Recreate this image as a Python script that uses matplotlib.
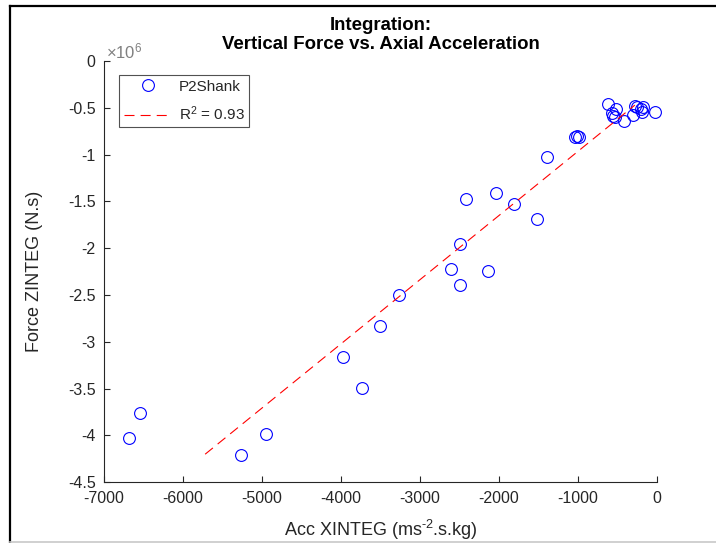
import matplotlib.pyplot as plt
from matplotlib.lines import Line2D

plt.rcParams['font.family'] = ['Liberation Sans', 'DejaVu Sans']
plt.rcParams['axes.unicode_minus'] = False
plt.rcParams['mathtext.fontset'] = 'custom'
plt.rcParams['mathtext.rm'] = 'Liberation Sans'
plt.rcParams['mathtext.it'] = 'Liberation Sans:italic'

# integrated acceleration (ms^-2.s.kg) and integrated force (x10^6 N.s)
acc_xinteg = [-6684, -6540, -5266, -4953, -3979, -3731, -3506, -3262,
              -2613, -2498, -2489, -2414, -2135, -2038, -1806, -1515,
              -1392, -1040, -1010, -985, -620, -566, -553, -535, -523,
              -418, -304, -278, -249, -203, -186, -177, -22]
force_zinteg = [-4.028, -3.760, -4.205, -3.984, -3.161, -3.493, -2.827, -2.495,
                -2.218, -2.389, -1.957, -1.473, -2.247, -1.406, -1.524, -1.684,
                -1.025, -0.811, -0.805, -0.812, -0.463, -0.558, -0.587, -0.601, -0.516,
                -0.640, -0.576, -0.480, -0.487, -0.516, -0.540, -0.494, -0.544]

# linear fit endpoints
fit_x = [-5720, -280]
fit_y = [-4.20, -0.47]
r2 = 0.93

xticks = [-7000, -6000, -5000, -4000, -3000, -2000, -1000, 0]
yticks = [0, -0.5, -1, -1.5, -2, -2.5, -3, -3.5, -4, -4.5]

axcol = '#262626'

fig = plt.figure(figsize=(7.16, 5.43), dpi=100)
ax = fig.add_axes([0.1453, 0.1118, 0.7723, 0.7757])

ax.plot(acc_xinteg, force_zinteg, 'o', mfc='none', mec='blue', ms=8.5, mew=0.8,
        label='P2Shank', clip_on=False)
ax.plot(fit_x, fit_y, '--', color='red', lw=0.8, dashes=(9, 5.5),
        label='R$^2$ = %.2f' % r2)

ax.set_xlim(-7000, 0)
ax.set_ylim(-4.5, 0)
ax.set_xticks(xticks)
ax.set_yticks(yticks)
ax.set_xticklabels([str(v) for v in xticks])
ax.set_yticklabels(['%g' % v for v in yticks])
ax.tick_params(direction='in', length=4, width=0.8, colors=axcol, labelsize=11.5,
               labelcolor=axcol)
ax.tick_params(axis='x', pad=6)
ax.tick_params(axis='y', pad=6)
for side in ['top', 'right']:
    ax.spines[side].set_visible(False)
for side in ['left', 'bottom']:
    ax.spines[side].set_color(axcol)
    ax.spines[side].set_linewidth(0.8)

ax.text(0.004, 1.0, r'$\times$10$^{6}$', transform=ax.transAxes, fontsize=12,
        color='#808080', ha='left', va='bottom')

ax.set_xlabel(r'Acc XINTEG (ms$^{\text{-2}}$.s.kg)', fontsize=13, color=axcol,
              labelpad=8.5)
ax.set_ylabel('Force ZINTEG (N.s)', fontsize=13, color=axcol, labelpad=18)
ax.set_title('Integration:\nVertical Force vs. Axial Acceleration', fontsize=13.4,
             fontweight='bold', color='black', pad=9, linespacing=1.15)

leg = ax.legend(loc='upper left', bbox_to_anchor=(0.027, 0.967), fontsize=11,
                frameon=True, fancybox=False, handlelength=3.15, borderpad=0.3,
                labelspacing=0.7, handletextpad=0.45, borderaxespad=0)
leg.get_frame().set_edgecolor(axcol)
leg.get_frame().set_linewidth(0.8)
for t in leg.get_texts():
    t.set_color(axcol)

# window border around the figure
fig.add_artist(Line2D([10 / 716, 1], [1 - 6 / 543, 1 - 6 / 543], color='black',
                      lw=1.6, transform=fig.transFigure))
fig.add_artist(Line2D([10 / 716, 10 / 716], [0, 1 - 6 / 543], color='black',
                      lw=1.6, transform=fig.transFigure))
fig.add_artist(Line2D([10 / 716, 1], [1.5 / 543, 1.5 / 543], color='#c8c8c8',
                      lw=1.2, transform=fig.transFigure))

fig.savefig('out.png', dpi=100)
